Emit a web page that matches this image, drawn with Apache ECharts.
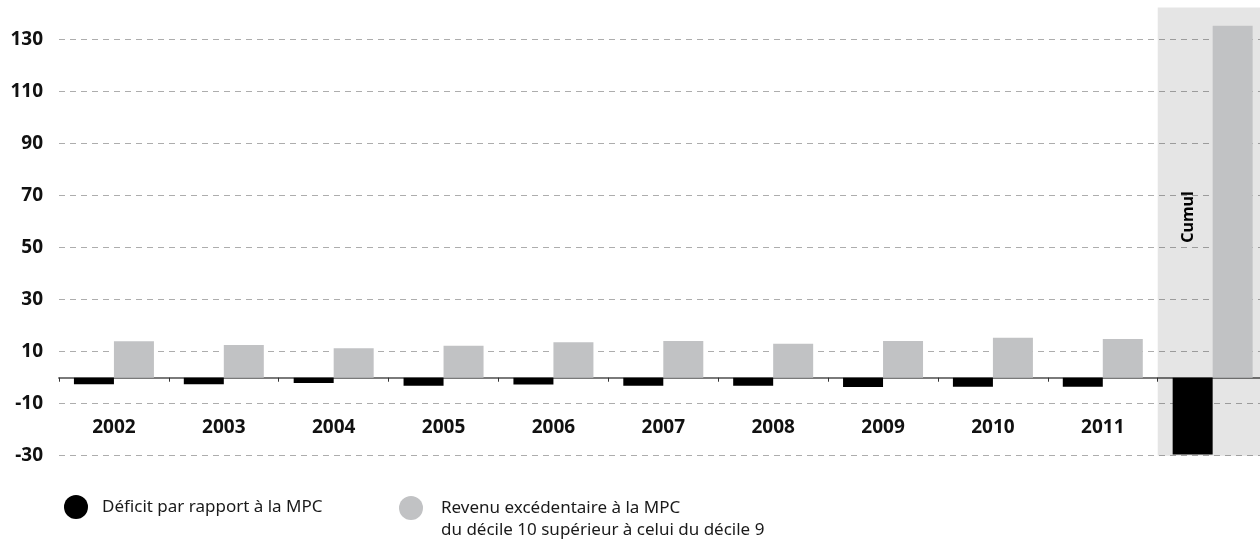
<!DOCTYPE html>
<html>
<head>
<meta charset="utf-8">
<style>
  html, body { margin: 0; padding: 0; background: #fff; }
  #chart { width: 1260px; height: 544px; }
</style>
<script src="https://cdn.jsdelivr.net/npm/echarts@6/dist/echarts.min.js"></script>
</head>
<body>
<div id="chart"></div>
<script>
// Years plus the cumulative column
const categories = ['2002', '2003', '2004', '2005', '2006', '2007', '2008', '2009', '2010', '2011', 'Cumul'];

// Shortfall relative to the MPC (negative values)
const deficit = [-2.5, -2.5, -2.0, -3.1, -2.6, -3.1, -3.1, -3.6, -3.5, -3.5, -29.5];

// Income of decile 10 above the MPC, in excess of decile 9
const excess = [14.0, 12.6, 11.3, 12.3, 13.6, 14.1, 13.1, 14.1, 15.4, 14.9, 135.4];

const seriesNames = [
  'Déficit par rapport à la MPC',
  'Revenu excédentaire à la MPC\ndu décile 10 supérieur à celui du décile 9'
];

// Value axis settings: ticks every 20 from -30; the top of the axis is the top of the shaded panel
const yMin = -30;
const yMax = 142.4;
const yStep = 20;

const FONT = 'Noto Sans';

const chart = echarts.init(document.getElementById('chart'), null, { renderer: 'canvas' });

chart.setOption({
  animation: false,
  textStyle: { fontFamily: FONT },
  // the last column runs slightly past the right edge of the canvas
  grid: { left: 59, right: -7.6, top: 7.5, bottom: 88.3, containLabel: false, outerBoundsMode: 'none' },
  legend: [
    {
      data: [seriesNames[0]],
      left: 64,
      top: 495,
      padding: 0,
      icon: 'circle',
      itemWidth: 24,
      itemHeight: 24,
      selectedMode: false,
      textStyle: { fontFamily: FONT, fontSize: 17, color: '#1a1a1a', padding: [0, 0, 0, 9] }
    },
    {
      data: [seriesNames[1]],
      left: 399,
      top: 475,
      padding: 0,
      icon: 'circle',
      itemWidth: 24,
      itemHeight: 24,
      selectedMode: false,
      // leading blank line keeps the first text line level with the marker
      formatter: name => '\n' + name,
      textStyle: { fontFamily: FONT, fontSize: 17, color: '#1a1a1a', lineHeight: 22, padding: [0, 0, 0, 13] }
    }
  ],
  xAxis: {
    type: 'category',
    data: categories,
    axisLine: { onZero: true, lineStyle: { color: '#7a7a7a', width: 2 } },
    axisTick: { show: true, length: 4, lineStyle: { color: '#333', width: 1 } },
    axisLabel: {
      margin: -38,
      fontFamily: FONT,
      fontSize: 19,
      fontWeight: 'bold',
      color: '#111',
      formatter: v => (v === 'Cumul' ? '' : v)
    },
    splitLine: { show: false }
  },
  yAxis: {
    type: 'value',
    min: yMin,
    max: yMax,
    interval: yStep,
    axisLine: { show: false },
    axisTick: { show: false },
    axisLabel: {
      margin: 16,
      showMaxLabel: false,
      fontFamily: FONT,
      fontSize: 19,
      fontWeight: 'bold',
      color: '#111'
    },
    splitLine: {
      showMaxLine: false,
      lineStyle: { color: '#adadad', type: [6, 5], width: 1 }
    }
  },
  series: [
    {
      name: seriesNames[0],
      type: 'bar',
      data: deficit,
      barWidth: 40,
      barGap: '0%',
      itemStyle: { color: '#000000' },
      markArea: {
        silent: true,
        itemStyle: { color: 'rgba(0,0,0,0.1)' },
        label: {
          show: true,
          position: 'inside',
          rotate: 90,
          offset: [14.6, -24.5],
          formatter: 'Cumul',
          fontFamily: FONT,
          fontSize: 16,
          fontWeight: 'bold',
          color: '#000'
        },
        data: [[
          { xAxis: 'Cumul', yAxis: yMin },
          { xAxis: 'Cumul', yAxis: yMax }
        ]]
      }
    },
    {
      name: seriesNames[1],
      type: 'bar',
      data: excess,
      barWidth: 40,
      barGap: '0%',
      itemStyle: { color: '#c1c2c4' }
    }
  ]
});
</script>
</body>
</html>
